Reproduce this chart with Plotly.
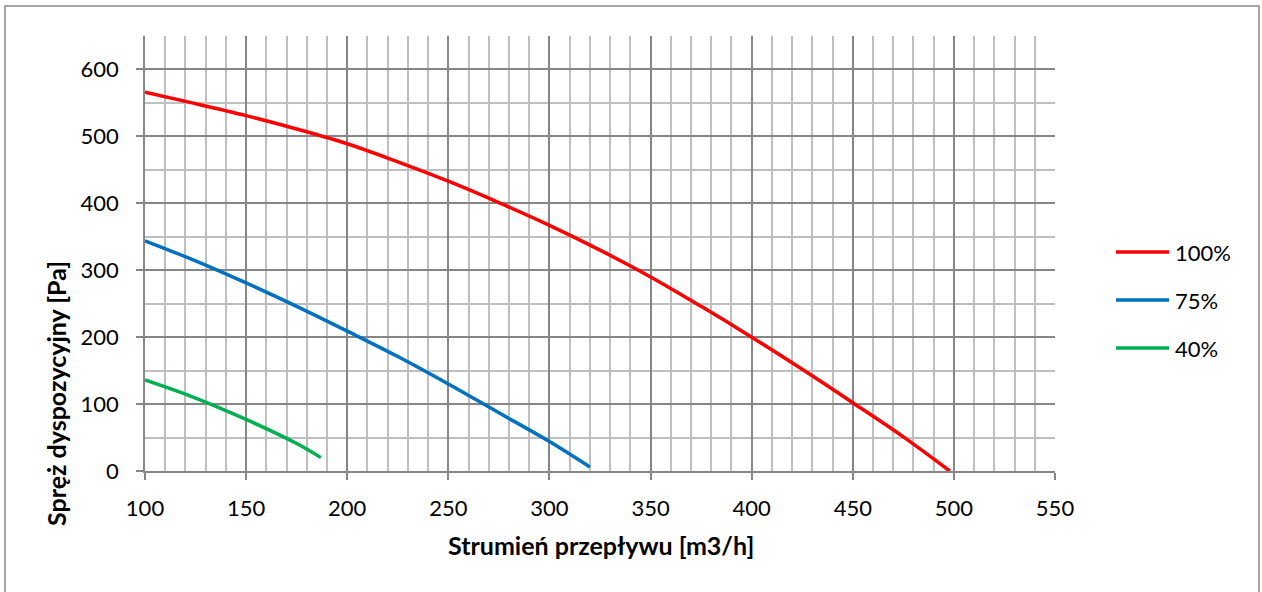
import plotly.graph_objects as go

# Fan curves: available pressure vs. air flow for three fan speeds
flow_100 = [100, 125, 150, 175, 200, 225, 250, 275, 300, 325, 350, 375, 400, 425, 450, 475, 498]
pres_100 = [566, 549, 531, 511, 489, 462, 433, 401, 367, 330, 290, 246, 200, 152, 102, 51, 0]

flow_75 = [100, 125, 150, 175, 200, 225, 250, 275, 300, 320]
pres_75 = [344, 314, 281, 246, 209, 171, 130, 87, 44, 6]

flow_40 = [100, 125, 150, 175, 187]
pres_40 = [136, 109, 77, 41, 20]

series_names = ["100%", "75%", "40%"]
series_colors = ["#FF0000", "#0070C0", "#00B050"]

x_title = "Strumień przepływu [m3/h]"
y_title = "Spręż dyspozycyjny [Pa]"

FONT = "Lato"
W, H = 1262, 592
ML, MR, MT, MB = 145, 207, 36, 121
PW, PH = W - ML - MR, H - MT - MB


def px_to_paper_x(px):
    return (px - ML) / PW


def px_to_paper_y(py):
    return (H - MB - py) / PH


fig = go.Figure()
for fx, fy, name, color in zip([flow_100, flow_75, flow_40],
                               [pres_100, pres_75, pres_40],
                               series_names, series_colors):
    fig.add_trace(go.Scatter(x=fx, y=fy, mode="lines", name=name,
                             line=dict(color=color, width=3.5, shape="spline", smoothing=1.0),
                             showlegend=False))

major = "#868686"
minor = "#BFBFBF"
tick_font = dict(family=FONT, size=22, color="#000")
title_font = dict(family=FONT, size=25, color="#000")

fig.update_xaxes(range=[100, 550], dtick=50, tick0=100, showgrid=True, gridcolor=major, gridwidth=1.6,
                 minor=dict(dtick=10, showgrid=True, gridcolor=minor, gridwidth=1.6),
                 showline=True, linecolor=major, linewidth=1.6,
                 ticks="outside", ticklen=7, tickcolor=major, tickwidth=1.6,
                 ticklabelstandoff=10,
                 zeroline=False, tickfont=tick_font)
fig.update_yaxes(range=[0, 650], dtick=100, tick0=0, showgrid=True, gridcolor=major, gridwidth=1.6,
                 minor=dict(dtick=50, showgrid=True, gridcolor=minor, gridwidth=1.6),
                 showline=True, linecolor=major, linewidth=1.6,
                 ticks="outside", ticklen=7, tickcolor=major, tickwidth=1.6,
                 ticklabelstandoff=13,
                 zeroline=False, tickfont=tick_font)

shapes = []
annotations = []
# chart frame
shapes.append(dict(type="rect", xref="paper", yref="paper",
                   x0=px_to_paper_x(5), x1=px_to_paper_x(1259),
                   y0=px_to_paper_y(605), y1=px_to_paper_y(6),
                   line=dict(color="#888888", width=1.5), fillcolor="rgba(0,0,0,0)", layer="below"))
# axis titles
annotations.append(dict(xref="paper", yref="paper", x=px_to_paper_x(601), y=px_to_paper_y(545),
                        text="<b>" + x_title + "</b>", showarrow=False,
                        xanchor="center", yanchor="middle", font=title_font))
annotations.append(dict(xref="paper", yref="paper", x=px_to_paper_x(56), y=px_to_paper_y(394),
                        text="<b>" + y_title + "</b>", showarrow=False, textangle=-90,
                        xanchor="center", yanchor="middle", font=title_font))
# legend
for i, (name, color) in enumerate(zip(series_names, series_colors)):
    py = 252 + 48 * i
    shapes.append(dict(type="line", xref="paper", yref="paper",
                       x0=px_to_paper_x(1116), x1=px_to_paper_x(1169),
                       y0=px_to_paper_y(py), y1=px_to_paper_y(py),
                       line=dict(color=color, width=3.5)))
    annotations.append(dict(xref="paper", yref="paper", x=px_to_paper_x(1173), y=px_to_paper_y(py),
                            text=name, showarrow=False, xanchor="left", yanchor="middle",
                            font=tick_font))

fig.update_layout(width=W, height=H, margin=dict(l=ML, r=MR, t=MT, b=MB),
                  plot_bgcolor="white", paper_bgcolor="white",
                  shapes=shapes, annotations=annotations, showlegend=False)

fig.write_html("out.html")
